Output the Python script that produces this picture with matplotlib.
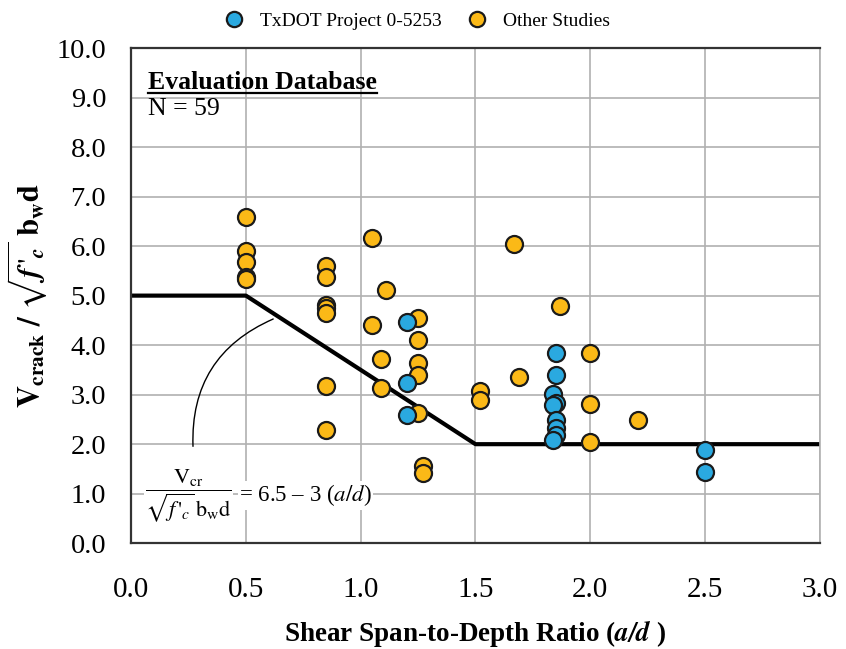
import matplotlib
matplotlib.use("Agg")
import matplotlib.pyplot as plt
from matplotlib.lines import Line2D

plt.rcParams["font.family"] = ["Liberation Serif", "DejaVu Serif"]
plt.rcParams["mathtext.fontset"] = "stix"

# TxDOT Project 0-5253 (blue)
tx_ad = [1.20, 1.20, 1.20, 1.85, 1.85, 1.84, 1.85, 1.84, 1.85, 1.85, 1.85, 1.84, 2.50, 2.50]
tx_v = [4.47, 3.23, 2.59, 3.85, 3.39, 3.02, 2.83, 2.80, 2.48, 2.32, 2.18, 2.08, 1.88, 1.43]

# Other studies (yellow)
ot_ad = [0.50, 0.50, 0.50, 0.50, 0.50,
         0.85, 0.85, 0.85, 0.85, 0.85, 0.85, 0.85,
         1.05, 1.11, 1.05, 1.09, 1.09,
         1.25, 1.25, 1.25, 1.25, 1.25, 1.27, 1.27,
         1.52, 1.52, 1.67, 1.69, 1.87,
         2.00, 2.00, 2.00, 2.21]
ot_v = [6.59, 5.91, 5.68, 5.37, 5.33,
        5.60, 5.37, 4.81, 4.74, 4.64, 3.17, 2.28,
        6.17, 5.11, 4.40, 3.73, 3.13,
        4.55, 4.10, 3.63, 3.39, 2.62, 1.56, 1.41,
        3.07, 2.89, 6.05, 3.35, 4.79,
        3.84, 2.82, 2.05, 2.48]

# design expression
line_ad = [0.0, 0.5, 1.5, 3.0]
line_v = [5.0, 5.0, 2.0, 2.0]

fig = plt.figure(figsize=(8.46, 6.49), dpi=100)
ax = fig.add_axes([0.155, 0.163, 0.814, 0.763])

ax.plot(line_ad, line_v, color="black", lw=3, zorder=2, solid_capstyle="butt")
ax.scatter(ot_ad, ot_v, s=150, c="#FBB917", edgecolors="#1a1a1a", linewidths=1.6, zorder=3)
ax.scatter(tx_ad, tx_v, s=150, c="#2AA9E0", edgecolors="#1a1a1a", linewidths=1.6, zorder=4)

ax.set_xlim(0, 3)
ax.set_ylim(0, 10)
ax.set_xticks([0, 0.5, 1, 1.5, 2, 2.5, 3])
ax.set_yticks(range(11))
ax.xaxis.set_major_formatter(lambda v, p: "%.1f" % v)
ax.yaxis.set_major_formatter(lambda v, p: "%.1f" % v)
ax.tick_params(length=0, colors="black")
ax.tick_params(axis="x", labelsize=21, pad=24)
ax.tick_params(axis="y", labelsize=20.5, pad=18)
ax.grid(True, color="#b0b0b0", lw=1.2)
ax.set_axisbelow(True)
for s in ["top", "left", "bottom"]:
    ax.spines[s].set_color("#333333")
    ax.spines[s].set_linewidth(1.6)
ax.spines["right"].set_color("#b0b0b0")
ax.spines["right"].set_linewidth(1.2)

ax.set_xlabel(r"Shear Span-to-Depth Ratio ($\mathbfit{a/d}$ )", fontsize=19.5,
              fontweight="bold", labelpad=11)
ax.set_ylabel(r"$\mathbf{V_{crack}}\ \mathbf{/}\ \sqrt{\mathbfit{f}\,'_{\mathbfit{c}}}\ \mathbf{b_w d}$",
              fontsize=22, labelpad=5)

# database label
t = ax.text(0.025, 0.931, "Evaluation Database", transform=ax.transAxes, fontsize=18.5,
            fontweight="bold", va="center")
ax.text(0.025, 0.877, "N = 59", transform=ax.transAxes, fontsize=18.5, va="center")
fig.canvas.draw()
bb = t.get_window_extent().transformed(fig.transFigure.inverted())
fig.add_artist(Line2D([bb.x0, bb.x1], [bb.y0 + 0.001, bb.y0 + 0.001], color="black", lw=1.6,
                      transform=fig.transFigure))

# equation annotation
ax.annotate("", xy=(0.63, 4.55), xytext=(0.27, 1.9),
            arrowprops=dict(arrowstyle="-", color="black", lw=1,
                            connectionstyle="arc3,rad=-0.35"))
ax.text(0.25, 0.97, r"$\dfrac{\mathrm{V_{cr}}}{\sqrt{f\,'_c}\,\mathrm{b_w d}}$",
        fontsize=16, ha="center", va="center", zorder=5,
        bbox=dict(fc="white", ec="none", pad=1))
ax.text(0.47, 0.97, r"= 6.5 – 3 ($a/d$)", fontsize=16.5, ha="left", va="center", zorder=5,
        bbox=dict(fc="white", ec="none", pad=1))

# legend
h1 = Line2D([], [], marker="o", ls="", ms=11, mfc="#2AA9E0", mec="#1a1a1a", mew=1.6)
h2 = Line2D([], [], marker="o", ls="", ms=11, mfc="#FBB917", mec="#1a1a1a", mew=1.6)
fig.legend([h1, h2], ["TxDOT Project 0-5253", "Other Studies"], loc="center",
           bbox_to_anchor=(0.493, 0.968), ncol=2, frameon=False, fontsize=14,
           handlelength=1.0, handletextpad=0.8, columnspacing=1.35)

fig.savefig("out.png", dpi=100)
